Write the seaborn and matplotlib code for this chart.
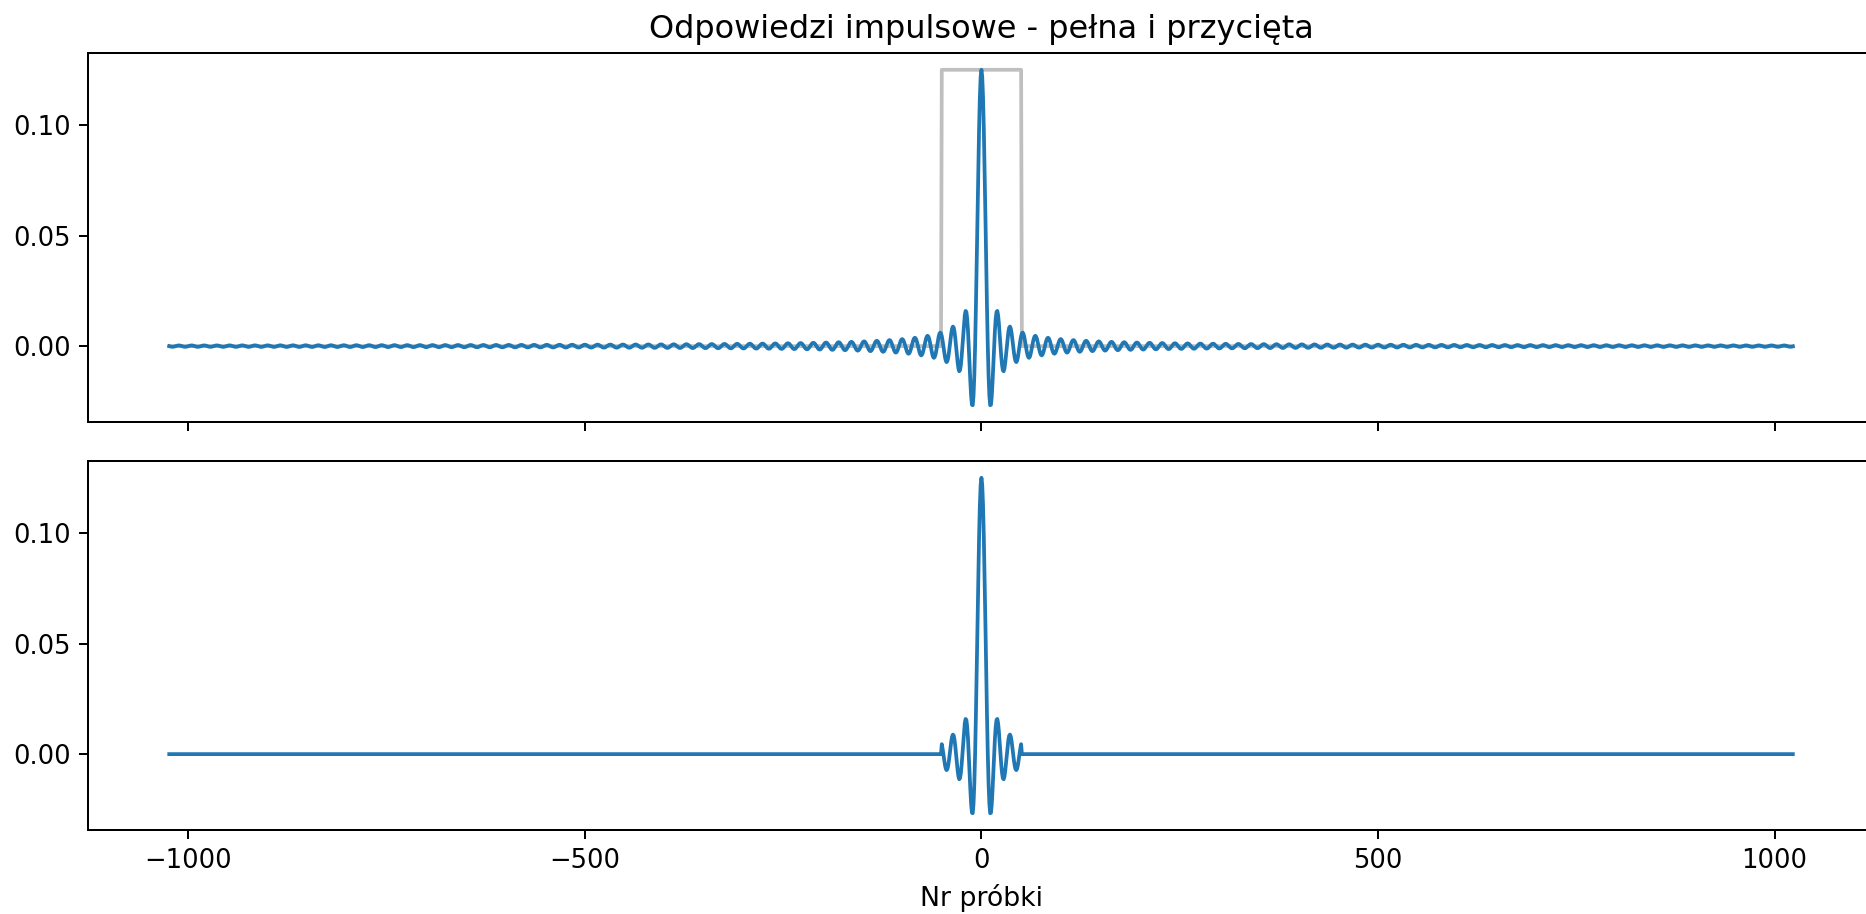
import numpy as np
import pandas as pd
import matplotlib
matplotlib.use("Agg")
import matplotlib.pyplot as plt
from matplotlib.ticker import MultipleLocator
import seaborn as sns

# Parameters
N_HALF = 1024            # samples from -1024 to 1023
CUTOFF = 1 / 16          # peak value 2*CUTOFF = 0.125, zeros every 8 samples
WINDOW_HALF = 50         # truncation window |n| <= 50
TITLE = "Odpowiedzi impulsowe - pełna i przycięta"
XLABEL = "Nr próbki"
Y_TICK_STEP = 0.05

n = np.arange(-N_HALF, N_HALF)
h_full = 2 * CUTOFF * np.sinc(2 * CUTOFF * n)
window = (np.abs(n) <= WINDOW_HALF).astype(float)
h_cut = h_full * window
window_scaled = window * h_full.max()

df = pd.DataFrame({"n": n, "full": h_full, "cut": h_cut, "win": window_scaled})

DPI = 180
fig = plt.figure(figsize=(1866 / DPI, 914 / DPI), dpi=DPI)
ax1 = fig.add_axes([0.0472, 0.5383, 1.0043 - 0.0472, 0.942 - 0.5383])
ax2 = fig.add_axes([0.0472, 0.0919, 1.0043 - 0.0472, 0.4956 - 0.0919], sharex=ax1)

sns.lineplot(data=df, x="n", y="win", ax=ax1, color="gray", alpha=0.5, linewidth=1.5)
sns.lineplot(data=df, x="n", y="full", ax=ax1, color="#1f77b4", linewidth=1.5)
sns.lineplot(data=df, x="n", y="cut", ax=ax2, color="#1f77b4", linewidth=1.5)

ax1.set_title(TITLE, fontsize=12.8)
ax1.set_xlabel("")
ax1.set_ylabel("")
ax2.set_ylabel("")
ax2.set_xlabel(XLABEL, fontsize=10.7)
ax1.tick_params(labelbottom=False)
for ax in (ax1, ax2):
    ax.yaxis.set_major_locator(MultipleLocator(Y_TICK_STEP))
    ax.tick_params(labelsize=10.3)
ax2.set_ylim(ax1.get_ylim())

fig.savefig("out.png", dpi=DPI)
